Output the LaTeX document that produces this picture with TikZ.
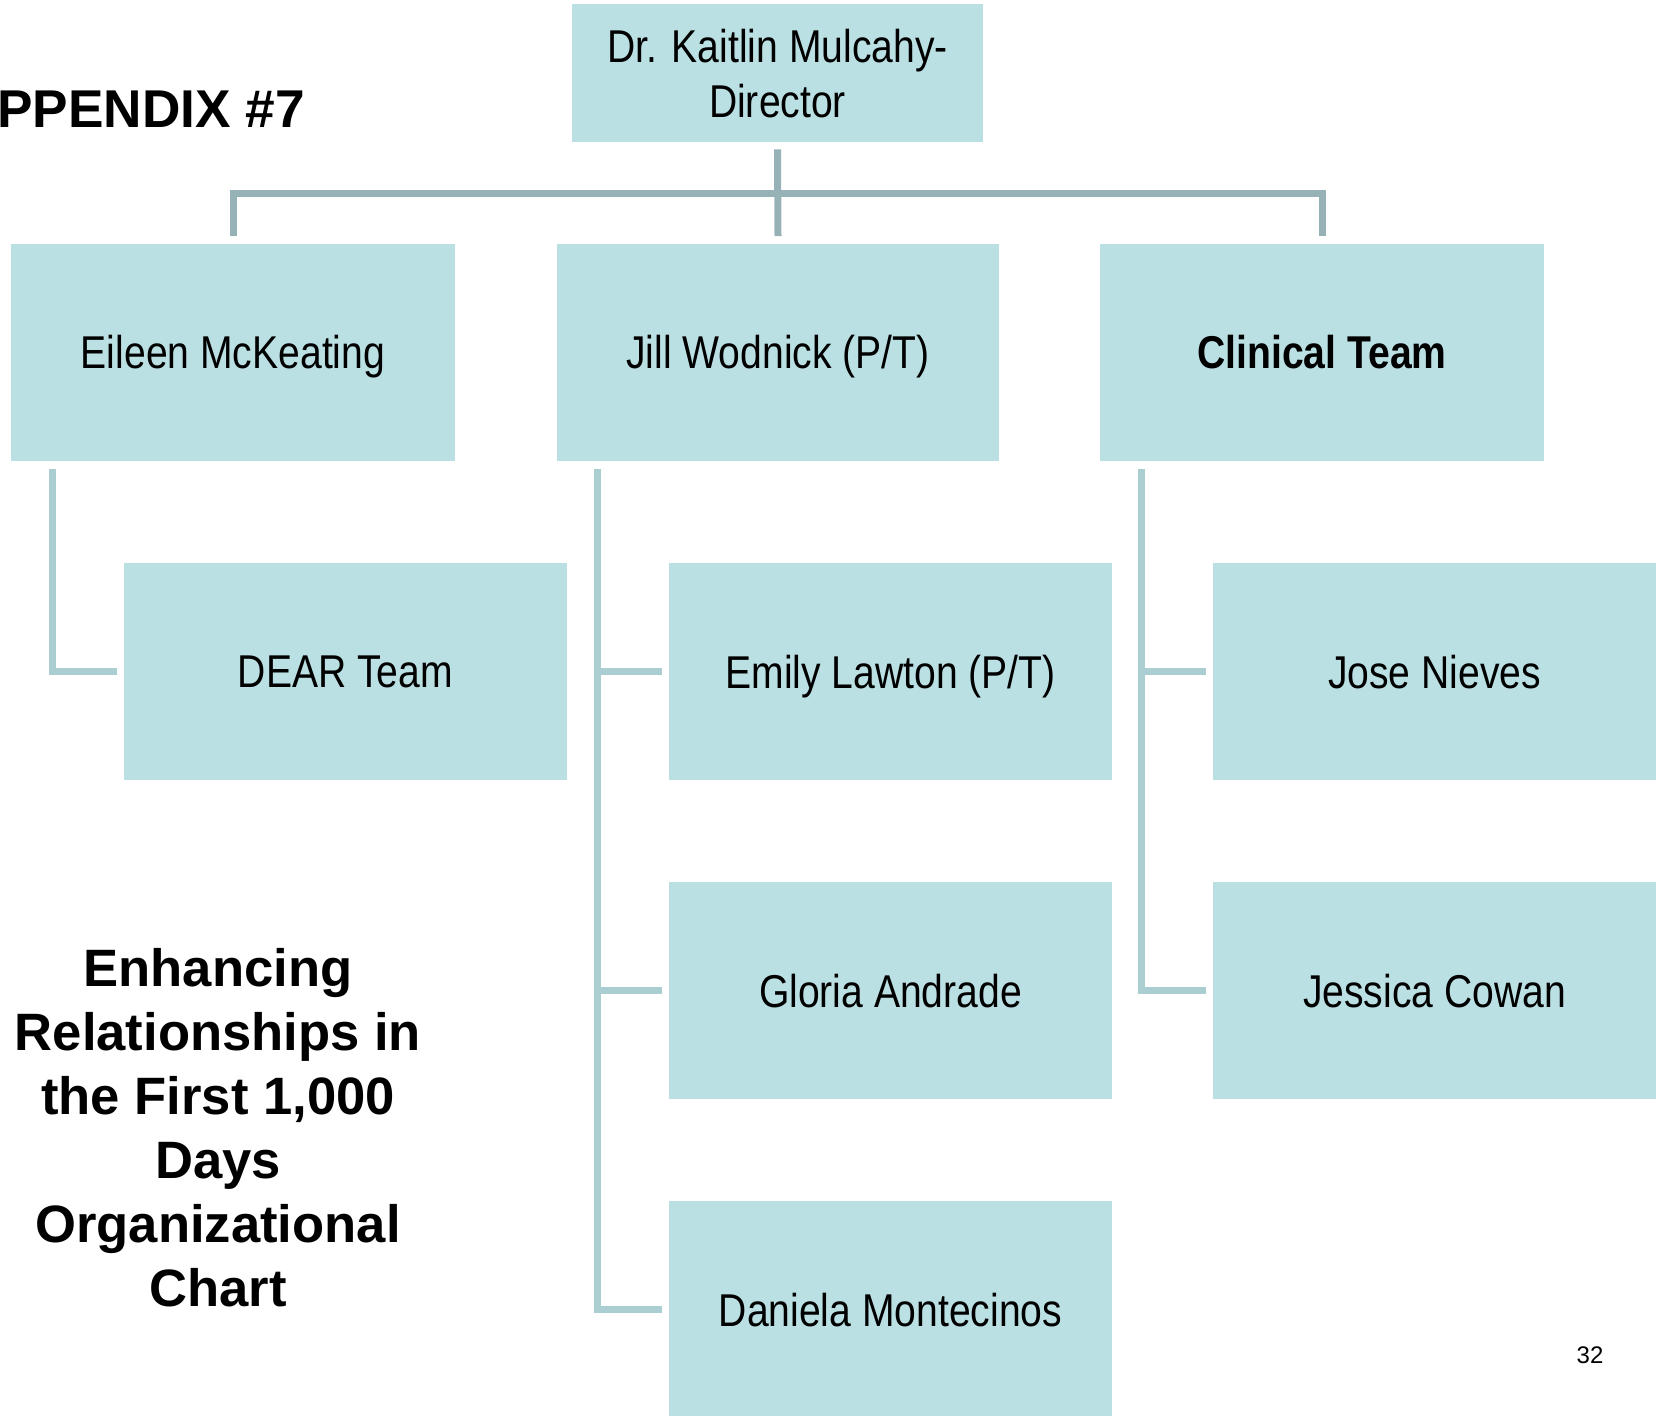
\documentclass[tikz,border=0pt]{standalone}
\usepackage{fontspec}
\setmainfont{Liberation Sans}
\newfontfamily\boxfont[FakeStretch=0.85]{Liberation Sans}
\definecolor{boxfill}{RGB}{187,224,227}
\definecolor{linkdark}{RGB}{150,178,182}
\definecolor{linklight}{RGB}{170,206,210}
\tikzset{member/.style={rectangle, fill=boxfill, inner sep=0pt,
minimum width=221.5pt, minimum height=108.5pt, align=center, text depth=0pt,
font=\boxfont\fontsize{23}{27.5}\selectfont},
toplink/.style={draw=linkdark, line width=3.5pt},
sublink/.style={draw=linklight, line width=3.5pt}}

\begin{document}
\begin{tikzpicture}[x=0.5pt, y=-0.5pt]
        \useasboundingbox (0,0) rectangle (1659,1415);
        \clip (0,0) rectangle (1659,1415);

        \node[anchor=base west, inner sep=0pt, font=\bfseries\fontsize{26.6}{30}\selectfont] (appx) at (-3,127) {PPENDIX \#7};
        \node[align=center, font=\bfseries\fontsize{26.3}{32}\selectfont] (title) at (218,1128) {Enhancing\\Relationships in\\the First 1,000\\Days\\Organizational\\Chart};
        \node[font=\fontsize{12}{14}\selectfont] (pg) at (1590,1355) {32};

        \node[member, minimum width=205.5pt, minimum height=69pt] (dir) at (777.5,73) {Dr. Kaitlin Mulcahy-\\Director};
        \node[member, minimum width=222pt] (eil) at (233,352) {Eileen McKeating};
        \node[member, minimum width=221pt] (jill) at (778,352) {Jill Wodnick (P/T)};
        \node[member, minimum width=222pt] (clin) at (1322,352) {\bfseries Clinical Team};

        \node[member] (dear) at (345.5,671.5) {DEAR Team};
        \node[member] (emily) at (890.5,671.5) {Emily Lawton (P/T)};
        \node[member] (jose) at (1434.5,671.5) {Jose Nieves};
        \node[member] (gloria) at (890.5,990.5) {Gloria Andrade};
        \node[member] (jessica) at (1434.5,990.5) {Jessica Cowan};
        \node[member] (daniela) at (890.5,1309.5) {Daniela Montecinos};

        % director to the three leads
        \coordinate (bus) at (778,193);
        \draw[toplink] ([yshift=-3.5pt]dir.south) -- ([yshift=3.5pt]jill.north);
        \draw[toplink] ([yshift=3.5pt]eil.north) |- (bus) -| ([yshift=3.5pt]clin.north);

        % leads to their staff
        \coordinate (et) at ([xshift=21pt,yshift=-4pt]eil.south west);
        \coordinate (jt) at ([xshift=20.5pt,yshift=-4pt]jill.south west);
        \coordinate (ct) at ([xshift=21pt,yshift=-4pt]clin.south west);
        \draw[sublink] (et) |- ([xshift=-3.5pt]dear.west);
        \draw[sublink] (jt) |- ([xshift=-3.5pt]daniela.west)
              (jt |- emily.west) -- ([xshift=-3.5pt]emily.west)
              (jt |- gloria.west) -- ([xshift=-3.5pt]gloria.west);
        \draw[sublink] (ct) |- ([xshift=-3.5pt]jessica.west)
              (ct |- jose.west) -- ([xshift=-3.5pt]jose.west);
\end{tikzpicture}
\end{document}
